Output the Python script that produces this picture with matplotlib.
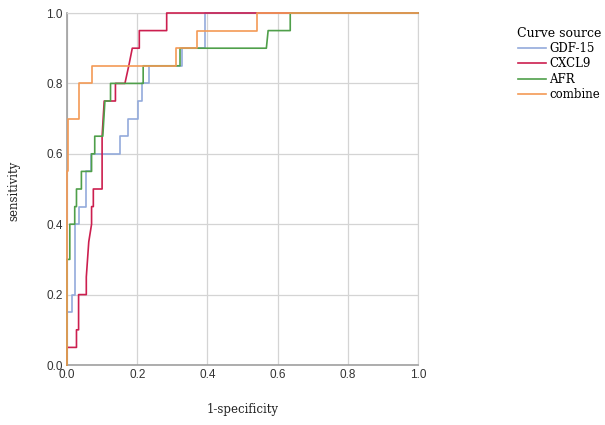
import matplotlib
matplotlib.use("Agg")
import matplotlib.pyplot as plt

# ROC curve vertices (1-specificity, sensitivity)
gdf15_fpr = [0, 0, 0.013, 0.013, 0.022, 0.022, 0.034, 0.034, 0.053, 0.053, 0.069, 0.069,
             0.151, 0.151, 0.175, 0.175, 0.202, 0.202, 0.213, 0.213, 0.234, 0.234,
             0.327, 0.327, 0.393, 0.393, 1.0]
gdf15_tpr = [0, 0.15, 0.15, 0.20, 0.20, 0.40, 0.40, 0.45, 0.45, 0.55, 0.55, 0.60,
             0.60, 0.65, 0.65, 0.70, 0.70, 0.75, 0.75, 0.80, 0.80, 0.85,
             0.85, 0.90, 0.90, 1.0, 1.0]

cxcl9_fpr = [0, 0, 0.027, 0.027, 0.033, 0.033, 0.055, 0.055, 0.062, 0.070, 0.070, 0.075,
             0.075, 0.100, 0.100, 0.106, 0.138, 0.138, 0.165, 0.176, 0.186, 0.206,
             0.206, 0.284, 0.284, 1.0]
cxcl9_tpr = [0, 0.05, 0.05, 0.10, 0.10, 0.20, 0.20, 0.25, 0.35, 0.40, 0.45, 0.45,
             0.50, 0.50, 0.65, 0.75, 0.75, 0.80, 0.80, 0.85, 0.90, 0.90,
             0.95, 0.95, 1.0, 1.0]

afr_fpr = [0, 0, 0.008, 0.008, 0.022, 0.022, 0.027, 0.027, 0.041, 0.041, 0.070, 0.070,
           0.079, 0.079, 0.102, 0.108, 0.124, 0.124, 0.217, 0.217, 0.322, 0.322,
           0.568, 0.573, 0.636, 0.636, 1.0]
afr_tpr = [0, 0.30, 0.30, 0.40, 0.40, 0.45, 0.45, 0.50, 0.50, 0.55, 0.55, 0.60,
           0.60, 0.65, 0.65, 0.75, 0.75, 0.80, 0.80, 0.85, 0.85, 0.90,
           0.90, 0.95, 0.95, 1.0, 1.0]

combine_fpr = [0, 0, 0.003, 0.003, 0.034, 0.034, 0.071, 0.071, 0.310, 0.310, 0.370, 0.370,
               0.540, 0.540, 1.0]
combine_tpr = [0, 0.55, 0.55, 0.70, 0.70, 0.80, 0.80, 0.85, 0.85, 0.90, 0.90, 0.95,
               0.95, 1.0, 1.0]

labels = ["GDF-15", "CXCL9", "AFR", "combine"]
colors = ["#93aadb", "#cc1f4f", "#4f9f4a", "#f39a55"]
ticks = [0.0, 0.2, 0.4, 0.6, 0.8, 1.0]
tick_labels = ["0.0", "0.2", "0.4", "0.6", "0.8", "1.0"]

fig = plt.figure(figsize=(6.05, 4.25), dpi=100)
ax = fig.add_axes([67 / 605, 60 / 425, 351 / 605, 352 / 425])

series = [(gdf15_fpr, gdf15_tpr), (cxcl9_fpr, cxcl9_tpr),
          (afr_fpr, afr_tpr), (combine_fpr, combine_tpr)]
for (fx, ty), lab, col in zip(series, labels, colors):
    ax.plot(fx, ty, color=col, lw=1.2, label=lab, clip_on=False, zorder=3)

ax.set_xlim(0, 1)
ax.set_ylim(0, 1)
ax.set_xticks(ticks)
ax.set_yticks(ticks)
ax.set_xticklabels(tick_labels, family="Liberation Sans")
ax.set_yticklabels(tick_labels, family="Liberation Sans")
ax.tick_params(length=0, labelsize=8.5, colors="#333333", pad=3)
ax.grid(True, color="#d4d4d4", lw=0.9)
for s in ["top", "right"]:
    ax.spines[s].set_color("#d4d4d4")
for s in ["left", "bottom"]:
    ax.spines[s].set_color("#a0a0a0")
    ax.spines[s].set_linewidth(1.2)

ax.set_xlabel("1-specificity", family="DejaVu Serif", fontsize=8.5, color="#222222",
              va="center")
ax.set_ylabel("sensitivity", family="DejaVu Serif", fontsize=8.5, color="#222222",
              va="center")
ax.xaxis.set_label_coords(0.5, (365 - 410) / 352)
ax.yaxis.set_label_coords((14 - 67) / 351, (365 - 191) / 352)

leg = fig.legend(loc="upper left", bbox_to_anchor=(512 / 605, 1 - 22 / 425),
                 title="Curve source", frameon=False, handlelength=2.4,
                 handletextpad=0.3, labelspacing=0.2, borderaxespad=0,
                 prop={"family": "DejaVu Serif", "size": 8.5},
                 title_fontproperties={"family": "DejaVu Serif", "size": 9})
for line in leg.get_lines():
    line.set_linewidth(1.2)

fig.savefig("out.png", dpi=100)
